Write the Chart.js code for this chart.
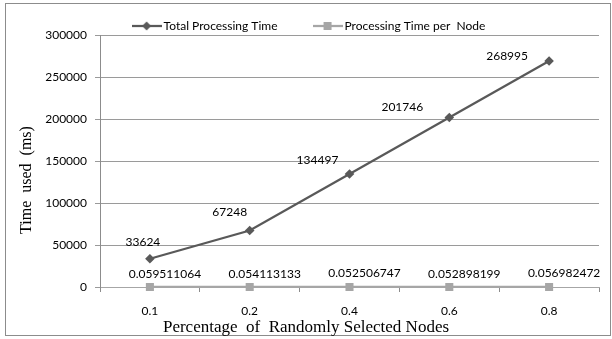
<!DOCTYPE html>
<html>
<head>
<meta charset="utf-8">
<script src="https://cdn.jsdelivr.net/npm/chart.js@4.4.1/dist/chart.umd.min.js"></script>
<style>
  html, body { margin: 0; padding: 0; background: #fff; }
  canvas { display: block; }
</style>
</head>
<body>
<canvas id="grafico" width="612" height="339"></canvas>
<script>
// percentage of nodes picked at random, and the measured times
const porcentagens = ['0.1', '0.2', '0.4', '0.6', '0.8'];
const tempoTotal = [33624, 67248, 134497, 201746, 268995];
const tempoPorNo = [0.059511064, 0.054113133, 0.052506747, 0.052898199, 0.056982472];
const ticksY = [0, 50000, 100000, 150000, 200000, 250000, 300000];

const corTotal = '#595959';
const corNo = '#a6a6a6';
const fonteSans = 'Lato, "Open Sans", sans-serif';
const fonteSerif = '"Liberation Serif", "DejaVu Serif", serif';

// where each value label sits relative to its point
const desvioTotal = [[-7, -17], [-20, -18], [-32, -14], [-47, -10], [-42, -5]];
const desvioNo = [[15, -13], [15, -13], [15, -14], [15, -13], [15, -14]];

// small line + marker swatch used by the legend
function amostra(cor, tipo) {
  const c = document.createElement('canvas');
  c.width = 30;
  c.height = 12;
  const g = c.getContext('2d');
  g.strokeStyle = cor;
  g.lineWidth = 2.25;
  g.beginPath();
  g.moveTo(0, 6);
  g.lineTo(30, 6);
  g.stroke();
  g.fillStyle = cor;
  g.beginPath();
  if (tipo === 'losango') {
    g.moveTo(15, 1.5); g.lineTo(19.5, 6); g.lineTo(15, 10.5); g.lineTo(10.5, 6);
  } else {
    g.rect(11, 2, 8, 8);
  }
  g.fill();
  return c;
}

const molduraPlugin = {
  id: 'moldura',
  beforeInit(chart) {
    // fixed legend band above the plot
    const fit = chart.legend.fit;
    chart.legend.fit = function() {
      fit.call(this);
      this.height = 35;
    };
  },
  afterLayout(chart) {
    // pull the legend row up and a bit to the right; bottom stays so nothing gets clipped
    const lg = chart.legend;
    lg.top -= 19;
    lg.left += 11;
    lg.right += 11;
  },
  beforeDraw(chart) {
    const ctx = chart.ctx;
    ctx.save();
    ctx.fillStyle = '#fff';
    ctx.fillRect(0, 0, chart.width, chart.height);
    ctx.restore();
  },
  afterDraw(chart) {
    const ctx = chart.ctx;
    ctx.save();
    ctx.strokeStyle = '#8c8c8c';
    ctx.lineWidth = 1;
    ctx.strokeRect(5.5, 3.5, 605, 332);

    ctx.fillStyle = '#000';
    ctx.textAlign = 'center';
    ctx.textBaseline = 'middle';
    ctx.font = '17px ' + fonteSerif;
    ctx.fillText('Percentage  of  Randomly Selected Nodes', chart.width / 2, 328);

    ctx.translate(27, 180);
    ctx.rotate(-Math.PI / 2);
    ctx.font = '16px ' + fonteSerif;
    ctx.fillText('Time  used  (ms)', 0, 0);
    ctx.restore();
  }
};

const rotulosPlugin = {
  id: 'rotulos',
  afterDatasetsDraw(chart) {
    const ctx = chart.ctx;
    ctx.save();
    ctx.fillStyle = '#000';
    ctx.font = '12px ' + fonteSans;
    ctx.textAlign = 'center';
    ctx.textBaseline = 'middle';
    chart.data.datasets.forEach((ds, d) => {
      const desvios = d === 0 ? desvioTotal : desvioNo;
      chart.getDatasetMeta(d).data.forEach((pt, i) => {
        ctx.fillText(String(ds.data[i]), pt.x + desvios[i][0], pt.y + desvios[i][1]);
      });
    });
    ctx.restore();
  }
};

const ctx = document.getElementById('grafico').getContext('2d');
const grafico = new Chart(ctx, {
  type: 'line',
  data: {
    labels: porcentagens,
    datasets: [
      {
        label: 'Total Processing Time',
        data: tempoTotal,
        borderColor: corTotal,
        backgroundColor: corTotal,
        borderWidth: 2.25,
        pointStyle: 'rectRot',
        pointRadius: 4.8,
        pointBorderWidth: 0,
        tension: 0,
        clip: false
      },
      {
        label: 'Processing Time per  Node',
        data: tempoPorNo,
        borderColor: corNo,
        backgroundColor: corNo,
        borderWidth: 2.25,
        pointStyle: 'rect',
        pointRadius: 5.7,
        pointBorderWidth: 0,
        tension: 0,
        clip: false
      }
    ]
  },
  options: {
    responsive: false,
    devicePixelRatio: 1,
    animation: false,
    layout: { padding: { left: 0, right: 13, top: 0, bottom: 0 } },
    plugins: {
      tooltip: { enabled: false },
      legend: {
        position: 'top',
        labels: {
          usePointStyle: true,
          pointStyleWidth: 22,
          padding: 39,
          color: '#000',
          font: { family: fonteSans, size: 12 },
          generateLabels(chart) {
            return chart.data.datasets.map((ds, i) => ({
              text: ds.label,
              pointStyle: amostra(ds.borderColor, i === 0 ? 'losango' : 'quadrado'),
              fillStyle: ds.borderColor,
              strokeStyle: ds.borderColor,
              lineWidth: 0,
              hidden: false,
              datasetIndex: i
            }));
          }
        }
      }
    },
    scales: {
      x: {
        offset: true,
        afterFit(s) { s.height = 52; },
        grid: { offset: true, drawOnChartArea: false, drawTicks: true, tickLength: 5, color: '#8c8c8c' },
        border: { display: true, color: '#a6a6a6' },
        ticks: { padding: 12, color: '#000', font: { family: fonteSans, size: 12 } }
      },
      y: {
        min: 0,
        max: 300000,
        afterFit(s) { s.width = 100; },
        afterBuildTicks(s) { s.ticks = ticksY.map(v => ({ value: v })); },
        grid: { color: '#9a9a9a', tickLength: 5 },
        border: { display: true, color: '#8c8c8c' },
        ticks: {
          padding: 8,
          color: '#000',
          font: { family: fonteSans, size: 12 },
          callback: v => String(v)
        }
      }
    }
  },
  plugins: [molduraPlugin, rotulosPlugin]
});
</script>
</body>
</html>
